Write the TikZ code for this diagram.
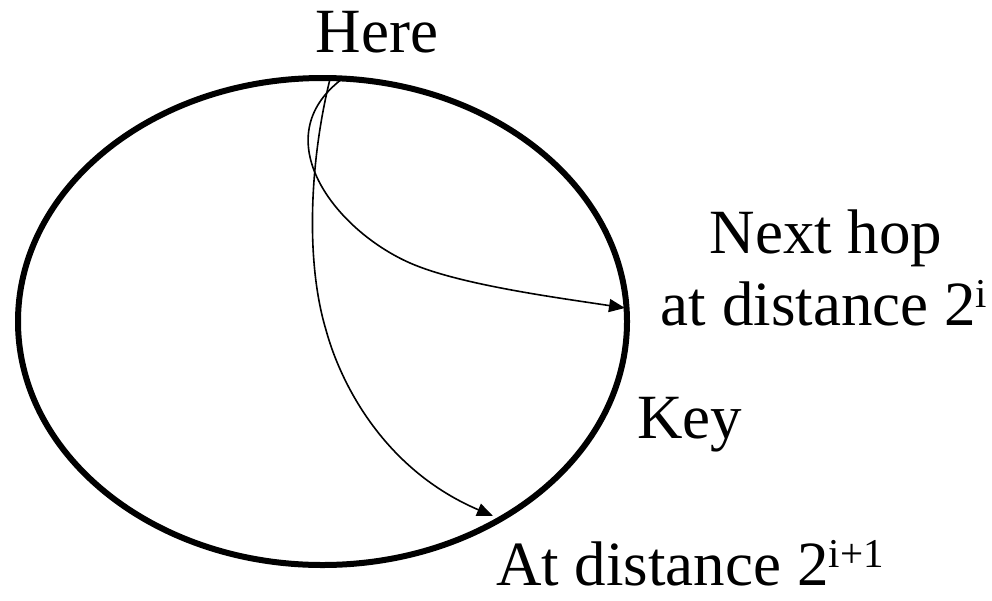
\documentclass[tikz,border=0pt]{standalone}
\usepackage{fontspec}
\setmainfont{Liberation Serif}
\usetikzlibrary{arrows.meta,shapes.geometric}
\newcommand{\mysup}[1]{\raisebox{18pt}{\fontsize{41}{41}\selectfont #1}}
\tikzset{
  lbl/.style={font=\fontsize{63}{72}\selectfont, inner sep=0pt},
  hop/.style={line width=1.6pt, -{Triangle[length=16pt,width=13pt]}},
}
\begin{document}
\begin{tikzpicture}[x=1pt,y=-1pt]
\useasboundingbox (0,0) rectangle (992,600);
\node[draw, ellipse, line width=6pt, minimum width=609pt, minimum height=487pt, inner sep=0pt] (ring) at (322.5,321.5) {};
\coordinate (s1) at (342,79);
\coordinate (s2) at (330,79);
\coordinate (m1) at (410,263);
\coordinate (m2) at (326,330);
\coordinate (e1) at (625,308);
\coordinate (e2) at (493,516);
\draw[hop] (s1) .. controls (264,138) and (335,230) .. (m1) .. controls (460,285) and (560,298) .. (e1);
\draw[hop] (s2) .. controls (310,160) and (305,260) .. (m2) .. controls (341,385) and (385,470) .. (e2);
\node[lbl, anchor=base] (here) at (377,52) {Here};
\node[lbl, anchor=base] (next) at (826,253) {Next hop};
\node[lbl, anchor=base] (dist) at (824,325) {at distance 2\mysup{i}};
\node[lbl, anchor=base west] (key) at (637,438) {Key};
\node[lbl, anchor=base west] (far) at (496,585) {At distance 2\mysup{i+1}};
\end{tikzpicture}
\end{document}
